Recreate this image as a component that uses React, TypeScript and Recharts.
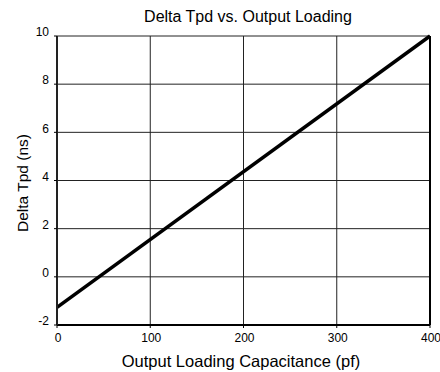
import React from "react";
import { LineChart, Line, XAxis, YAxis, CartesianGrid, ReferenceLine, Customized } from "recharts";

const loadingPf = [0, 400];
const deltaTpdNs = [-1.27, 10];
const xTicks = [0, 100, 200, 300, 400];
const yTicks = [-2, 0, 2, 4, 6, 8, 10];

const data = loadingPf.map((x, i) => ({ x, y: deltaTpdNs[i] }));

const FONT = "'Liberation Sans', Arial, Helvetica, sans-serif";

const YTick = (props: any) => {
  const { x, y, payload } = props;
  return (
    <text x={x} y={y - 4} dy="0.355em" textAnchor="end" fontSize={12} fontFamily={FONT} fill="#000">
      {payload.value}
    </text>
  );
};

const XTick = (props: any) => {
  const { x, y, payload } = props;
  return (
    <text x={x + 1} y={y} dy="0.71em" textAnchor="middle" fontSize={12} fontFamily={FONT} fill="#000">
      {payload.value}
    </text>
  );
};

const Titles = () => (
  <g fontFamily={FONT} fill="#000">
    <text x={248} y={22} textAnchor="middle" fontSize={16}>Delta Tpd vs. Output Loading</text>
    <text x={241} y={367} textAnchor="middle" fontSize={16.5}>Output Loading Capacitance (pf)</text>
    <text x={28} y={183} textAnchor="middle" fontSize={15.5} transform="rotate(-90 28 183)">Delta Tpd (ns)</text>
  </g>
);

export default function App() {
  return (
    <div style={{ position: "absolute", left: 0, top: 0, background: "#fff" }}>
      <LineChart width={440} height={372} data={data} margin={{ top: 36, right: 10, bottom: 0, left: 0 }}>
        <CartesianGrid stroke="#222" strokeWidth={1} />
        <XAxis
          dataKey="x"
          type="number"
          domain={[0, 400]}
          ticks={xTicks}
          interval={0}
          tickSize={3}
          tickMargin={5}
          tick={<XTick />}
          axisLine={{ stroke: "#000", strokeWidth: 2 }}
          tickLine={{ stroke: "#000" }}
          height={47}
        />
        <YAxis
          type="number"
          domain={[-2, 10]}
          ticks={yTicks}
          interval={0}
          width={57}
          tickSize={3}
          tickMargin={5}
          tick={<YTick />}
          axisLine={{ stroke: "#222", strokeWidth: 2 }}
          tickLine={{ stroke: "#000" }}
        />
        <ReferenceLine x={400} stroke="#000" strokeWidth={2} />
        <Line
          type="linear"
          dataKey="y"
          stroke="#000"
          strokeWidth={3.5}
          dot={false}
          isAnimationActive={false}
        />
        <Customized component={Titles} />
      </LineChart>
    </div>
  );
}
